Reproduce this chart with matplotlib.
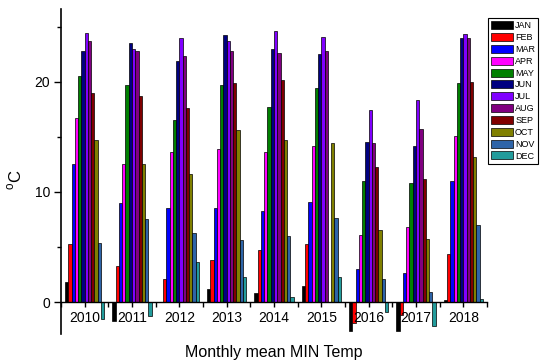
# Monthly mean MIN temperature, 2010-2018
import numpy as np
import matplotlib.pyplot as plt

plt.rcParams['font.family'] = ['Liberation Sans', 'DejaVu Sans']
plt.rcParams['mathtext.fontset'] = 'custom'
plt.rcParams['mathtext.rm'] = 'Liberation Sans'

years = ['2010', '2011', '2012', '2013', '2014', '2015', '2016', '2017', '2018']
months = ['JAN', 'FEB', 'MAR', 'APR', 'MAY', 'JUN',
          'JUL', 'AUG', 'SEP', 'OCT', 'NOV', 'DEC']
colors = ['#000000', '#ff0000', '#0000ff', '#ff00ff', '#008000', '#000080',
          '#8000ff', '#800080', '#800000', '#808000', '#2e64a8', '#229c9c']

# one list per year, JAN..DEC (SEP 2015 missing)
t2010 = [1.8, 5.3, 12.5, 16.7, 20.5, 22.8, 24.4, 23.7, 19.0, 14.7, 5.4, -1.5]
t2011 = [-1.7, 3.3, 9.0, 12.5, 19.7, 23.5, 23.0, 22.8, 18.7, 12.5, 7.5, -1.3]
t2012 = [0.0, 2.1, 8.5, 13.6, 16.5, 21.9, 24.0, 22.3, 17.6, 11.6, 6.3, 3.6]
t2013 = [1.2, 3.8, 8.5, 13.9, 19.7, 24.2, 23.7, 22.8, 19.9, 15.6, 5.6, 2.3]
t2014 = [0.8, 4.7, 8.3, 13.6, 17.7, 23.0, 24.6, 22.6, 20.2, 14.7, 6.0, 0.5]
t2015 = [1.5, 5.3, 9.1, 14.2, 19.4, 22.5, 24.1, 22.8, np.nan, 14.4, 7.6, 2.3]
t2016 = [-2.6, -1.9, 3.0, 6.1, 11.0, 14.5, 17.4, 14.4, 12.3, 6.5, 2.1, -0.9]
t2017 = [-2.6, -1.2, 2.6, 6.8, 10.8, 14.2, 18.3, 15.7, 11.2, 5.7, 0.9, -2.2]
t2018 = [0.2, 4.4, 11.0, 15.1, 19.9, 24.0, 24.3, 24.0, 20.0, 13.2, 7.0, 0.3]

data = np.array([t2010, t2011, t2012, t2013, t2014, t2015, t2016, t2017, t2018])

fig = plt.figure(figsize=(5.4, 3.61), dpi=100)
ax = fig.add_axes([61 / 540, 1 - 334 / 361, 426 / 540, 325 / 361])

x = np.arange(len(years))
w = 0.0687
for i, m in enumerate(months):
    ax.bar(x + (i - 5.5) * w, data[:, i], width=w, color=colors[i],
           edgecolor='black', linewidth=0.5, label=m)

ax.set_xlim(-0.5, 8.5)
ax.set_ylim(-2.9, 26.6)
ax.set_xticks(x)
ax.set_xticklabels(years, fontsize=10)
ax.set_xticks(np.arange(-0.5, 9, 1), minor=True)
ax.set_yticks([0, 10, 20])
ax.set_yticks([5, 15, 25], minor=True)
ax.tick_params(axis='y', which='major', length=5, width=1, labelsize=10, pad=3)
ax.tick_params(axis='y', which='minor', length=3, width=1)
ax.tick_params(axis='x', which='both', length=3.5, width=1, pad=3)

ax.spines['top'].set_visible(False)
ax.spines['right'].set_visible(False)
ax.spines['bottom'].set_position(('data', 0))
ax.spines['left'].set_linewidth(1.2)
ax.spines['bottom'].set_linewidth(1.0)

ax.set_ylabel(r'$^{\mathrm{o}}$C', fontsize=12)
ax.yaxis.set_label_coords(-37 / 426, 0.474)
fig.text(274 / 540, 1 - 352 / 361, 'Monthly mean MIN Temp',
         ha='center', va='center', fontsize=11.5)

leg = fig.legend(loc='upper left', bbox_to_anchor=(488 / 540, 1 - 18 / 361),
                 fontsize=6.5, handlelength=2.4, handleheight=1.0,
                 labelspacing=0.3, handletextpad=0.25, borderpad=0.35,
                 borderaxespad=0, fancybox=False, edgecolor='black',
                 framealpha=1)
leg.get_frame().set_linewidth(0.8)

fig.savefig('out.png', dpi=100)
